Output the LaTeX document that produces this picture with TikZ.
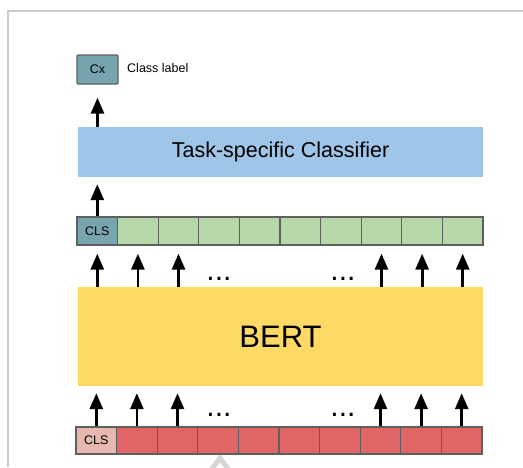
\documentclass[tikz,border=0pt]{standalone}
\usepackage{fontspec}
\setmainfont{Liberation Sans}
\usetikzlibrary{arrows.meta}
\definecolor{tealc}{HTML}{76A5AF}
\definecolor{greenc}{HTML}{B6D7A8}
\definecolor{bluec}{HTML}{9FC5E8}
\definecolor{yellowc}{HTML}{FFD966}
\definecolor{redc}{HTML}{E06666}
\definecolor{pinkc}{HTML}{E6B8AF}
\definecolor{edgec}{HTML}{5F5F5F}
\definecolor{framec}{HTML}{CCCCCC}
\tikzset{
  token/.style={draw=edgec, line width=1.3pt, inner sep=0pt,
    minimum width=40.6pt, minimum height=28pt, font=\fontsize{12.5}{14}\selectfont},
  block/.style={inner sep=0pt, minimum width=405pt},
  arr/.style={-{Triangle[length=16pt,width=13pt]}, line width=2.8pt, black},
  dotsnode/.style={anchor=base, inner sep=0pt, font=\fontsize{30}{34}\selectfont}
}
\begin{document}
\begin{tikzpicture}[x=1pt, y=-1pt]
\useasboundingbox (0,0) rectangle (523,467);
% page frame
\draw[framec, line width=2pt] (8,467) -- (8,10.5) -- (523,10.5);
% faint mark at the lower edge
\draw[framec!80, line width=5pt] (211,470) -- (220,458) -- (229,470);

% output label
\node[token, fill=tealc, minimum width=41pt, minimum height=29pt, rounded corners=1pt] (cx) at (97.5,69.5) {Cx};
\node[anchor=west, inner sep=0pt, font=\fontsize{12.5}{14}\selectfont] (cxlabel) at (127,68) {Class label};

% classifier and encoder blocks
\node[block, fill=bluec, minimum height=50pt, font=\fontsize{21.5}{24}\selectfont] (clf) at (280.5,152) {Task-specific Classifier};
\node[block, fill=yellowc, minimum height=99pt, font=\fontsize{31}{34}\selectfont] (bert) at (280.5,336.5) {BERT};

% output token row
\foreach \i in {1,...,10} {
  \pgfmathsetmacro{\cxpos}{77+40.6*(\i-0.5)}
  \ifnum\i=1
    \node[token, fill=tealc] (g\i) at (\cxpos,231) {CLS};
  \else
    \node[token, fill=greenc] (g\i) at (\cxpos,231) {};
  \fi
}
% input token row
\foreach \i in {1,...,10} {
  \pgfmathsetmacro{\cxpos}{76+40.6*(\i-0.5)}
  \ifnum\i=1
    \node[token, fill=pinkc, minimum height=27pt] (r\i) at (\cxpos,440.5) {CLS};
  \else
    \node[token, fill=redc, minimum height=27pt] (r\i) at (\cxpos,440.5) {};
  \fi
}

% arrows
\draw[arr, shorten >=13pt] (clf.north -| cx) -- (cx.south);
\draw[arr, shorten >=7pt] (g1.north) -- (clf.south -| g1);
\foreach \i in {1,2,3,8,9,10} {
  \draw[arr, shorten >=8pt] (bert.north -| g\i) -- (g\i.south);
  \draw[arr, shorten >=7pt] (r\i.north) -- (bert.south -| r\i);
}

% ellipses between the arrows
\node[dotsnode] (d1) at (219,280) {...};
\node[dotsnode] (d2) at (343,280) {...};
\node[dotsnode] (d3) at (219,416) {...};
\node[dotsnode] (d4) at (343,416) {...};
\end{tikzpicture}
\end{document}
